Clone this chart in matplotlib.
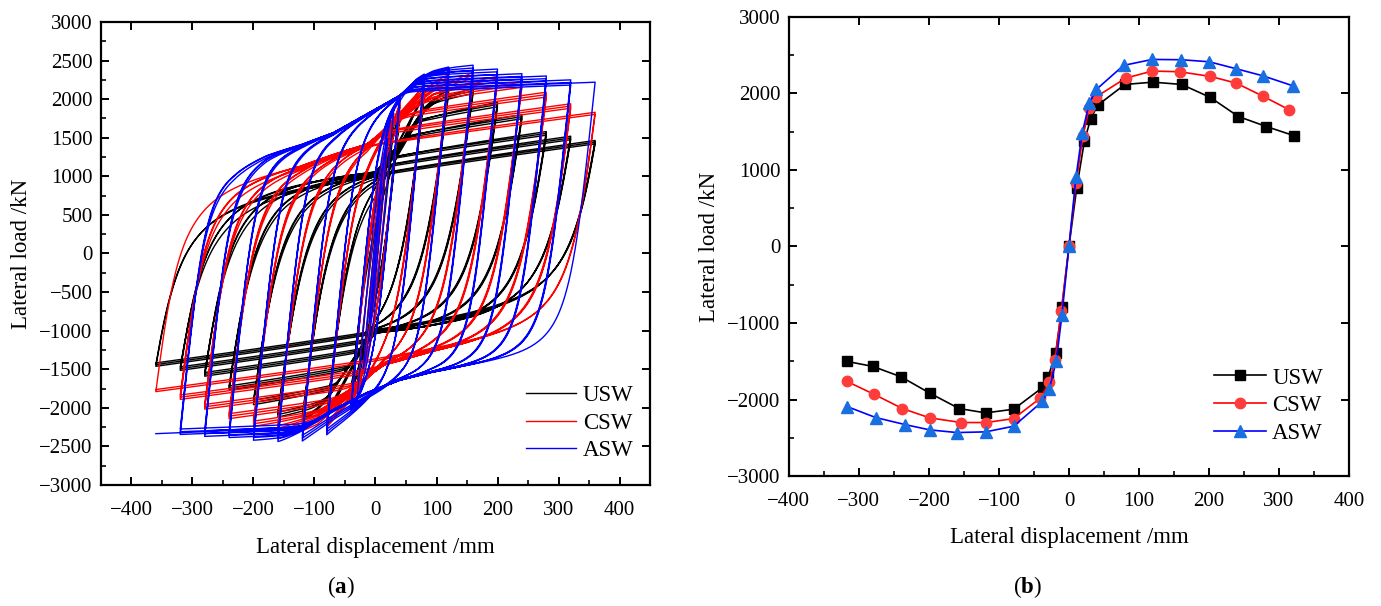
import numpy as np
import matplotlib
matplotlib.use("Agg")
import matplotlib.pyplot as plt
from matplotlib.ticker import MultipleLocator

plt.rcParams['font.family'] = ['Liberation Serif', 'DejaVu Serif']
plt.rcParams['mathtext.fontset'] = 'custom'
plt.rcParams['mathtext.rm'] = 'Liberation Serif'
plt.rcParams['mathtext.bf'] = 'Liberation Serif:bold'
plt.rcParams['axes.unicode_minus'] = True

# ---------------- Panel (b): skeleton curves ----------------
usw_disp = [-317, -280, -240, -198, -157, -119, -79, -37, -30, -19, -10, 0,
            11, 22, 31, 41, 80, 120, 161, 202, 242, 282, 321]
usw_load = [-1502, -1568, -1703, -1921, -2118, -2175, -2127, -1838, -1712, -1397, -795, 0,
            760, 1376, 1668, 1847, 2118, 2148, 2118, 1948, 1699, 1568, 1450]
csw_disp = [-317, -278, -238, -199, -154, -118, -79, -41, -28, -20, -11, 0,
            10, 20, 29, 39, 81, 119, 158, 202, 239, 277, 314]
csw_load = [-1764, -1934, -2118, -2240, -2301, -2301, -2249, -1983, -1777, -1480, -838, 0,
            825, 1441, 1812, 1956, 2201, 2293, 2284, 2223, 2135, 1965, 1790]
asw_disp = [-317, -276, -234, -199, -160, -119, -79, -38, -28, -18, -10, 0,
            10, 19, 29, 39, 78, 119, 160, 200, 239, 277, 320]
asw_load = [-2092, -2236, -2328, -2397, -2432, -2423, -2349, -2026, -1860, -1493, -891, 0,
            904, 1489, 1869, 2052, 2367, 2445, 2441, 2415, 2323, 2231, 2100]

# ---------------- Panel (a): hysteresis loops ----------------
amplitudes = [10, 20, 30, 40, 80, 120, 160, 200, 240, 280, 320, 360]
usw_pos = [760, 1376, 1668, 1847, 2100, 2140, 2140, 1960, 1800, 1580, 1520, 1465]
usw_neg = [-795, -1397, -1712, -1838, -2120, -2170, -2120, -1960, -1770, -1590, -1515, -1462]
csw_pos = [825, 1441, 1812, 1956, 2200, 2320, 2345, 2295, 2220, 2090, 1940, 1830]
csw_neg = [-838, -1480, -1777, -1983, -2250, -2300, -2300, -2240, -2140, -2017, -1891, -1790]
asw_pos = [904, 1489, 1869, 2052, 2325, 2416, 2440, 2390, 2330, 2300, 2250, 2220]
asw_neg = [-891, -1493, -1860, -2026, -2349, -2430, -2435, -2420, -2385, -2370, -2345, -2335]
usw_cycles = [1, 1, 1, 3, 3, 3, 3, 3, 3, 3, 3, 3]
csw_cycles = [1, 1, 1, 3, 3, 3, 3, 3, 3, 3, 3, 2]
asw_cycles = [1, 1, 1, 3, 3, 3, 3, 3, 3, 3, 3, 1]

# envelope paths followed by the loading branches
usw_up_d = [-450, -300, -200, -100, 0, 40, 80, 120, 200, 450]
usw_up_F = [900, 960, 1010, 1060, 1110, 1500, 1950, 2200, 2500, 3200]
usw_dn_d = [450, 300, 200, 100, 0, -40, -80, -120, -200, -450]
usw_dn_F = [-900, -980, -1010, -1040, -1080, -1500, -1950, -2220, -2500, -3200]
csw_up_d = [-450, -300, -233, -124, -69, -14, 40, 95, 149, 200, 450]
csw_up_F = [750, 930, 1040, 1200, 1330, 1450, 1780, 2088, 2217, 2350, 2700]
csw_dn_d = [450, 300, 200, 100, 14, -40, -95, -149, -200, -450]
csw_dn_F = [-850, -1080, -1200, -1320, -1480, -1780, -2088, -2217, -2330, -2700]
asw_up_d = [-450, -300, -233, -178, -124, -69, -14, 40, 67, 95, 130, 200, 450]
asw_up_F = [900, 1050, 1168, 1319, 1427, 1578, 1816, 2053, 2247, 2355, 2430, 2520, 2800]
asw_dn_d = [450, 300, 204, 150, 95, 40, -14, -69, -124, -157, -200, -450]
asw_dn_F = [-1150, -1320, -1420, -1480, -1550, -1650, -1810, -2027, -2286, -2416, -2500, -2800]


def smin(a, b, t=40.0):
    m = np.minimum(a, b)
    return m - t * np.log(np.exp(-(a - m) / t) + np.exp(-(b - m) / t))


def smax(a, b, t=40.0):
    return -smin(-a, -b, t)


def branch(d_r, F_r, d_t, F_t, spec, A, n=220):
    d = np.linspace(d_r, d_t, n)
    u = (d - d_r) / (d_t - d_r)
    s = 1.0 if d_t > d_r else -1.0
    if s > 0:
        g = np.interp(d, spec['up_d'], spec['up_F'])
        h = smin(g, F_t + spec['k'] * (d - d_t))
    else:
        g = np.interp(-d, -np.array(spec['dn_d']), spec['dn_F'])
        h = smax(g, F_t + spec['k'] * (d - d_t))
    a = A / 360.0
    K0 = spec['K0'][0] + (spec['K0'][1] - spec['K0'][0]) * a
    R = spec['R'][0] + (spec['R'][1] - spec['R'][0]) * a ** 2
    z = np.maximum(K0 * np.abs(d - d_r), 1e-9)
    y = np.maximum(s * (h - F_r), 1e-6)
    F = F_r + s * (z ** -R + y ** -R) ** (-1.0 / R)
    F = F + (F_t - F[-1]) * u
    return d, F


def hysteresis(amps, pos, neg, cycles, spec, deg=0.015):
    xs, ys = [np.array([0.0])], [np.array([0.0])]
    d_r, F_r = 0.0, 0.0
    for A, P, N, nc in zip(amps, pos, neg, cycles):
        for k in range(nc):
            f = 1 - deg * k
            d, F = branch(d_r, F_r, A, P * f, spec, A)
            xs.append(d[1:]); ys.append(F[1:])
            d_r, F_r = A, P * f
            d, F = branch(d_r, F_r, -A, N * f, spec, A)
            xs.append(d[1:]); ys.append(F[1:])
            d_r, F_r = -A, N * f
    return np.concatenate(xs), np.concatenate(ys)


usw_spec = dict(up_d=usw_up_d, up_F=usw_up_F, dn_d=usw_dn_d, dn_F=usw_dn_F,
                k=1.0, K0=(70, 45), R=(2.2, 1.6))
csw_spec = dict(up_d=csw_up_d, up_F=csw_up_F, dn_d=csw_dn_d, dn_F=csw_dn_F,
                k=1.0, K0=(75, 60), R=(3.0, 1.9))
asw_spec = dict(up_d=asw_up_d, up_F=asw_up_F, dn_d=asw_dn_d, dn_F=asw_dn_F,
                k=0.3, K0=(85, 75), R=(4.0, 2.6))

fig = plt.figure(figsize=(13.81, 6.06), dpi=100)
axa = fig.add_axes([0.0731, 0.1997, 0.3976, 0.7640])
axb = fig.add_axes([0.5713, 0.2145, 0.4055, 0.7575])

fs_tick = 15
fs_lab = 16.5

# --- panel (a)
xu, yu = hysteresis(amplitudes, usw_pos, usw_neg, usw_cycles, usw_spec)
xc, yc = hysteresis(amplitudes, csw_pos, csw_neg, csw_cycles, csw_spec)
xa, ya = hysteresis(amplitudes, asw_pos, asw_neg, asw_cycles, asw_spec)
axa.plot(xu, yu, color='#000000', lw=1.0, label='USW')
axa.plot(xc, yc, color='#ff0000', lw=1.0, label='CSW')
axa.plot(xa, ya, color='#0000ff', lw=1.0, label='ASW')
axa.set_xlim(-450, 450)
axa.set_ylim(-3000, 3000)
axa.xaxis.set_major_locator(MultipleLocator(100))
axa.xaxis.set_minor_locator(MultipleLocator(50))
axa.yaxis.set_major_locator(MultipleLocator(500))
axa.yaxis.set_minor_locator(MultipleLocator(250))
axa.set_xlabel('Lateral displacement /mm', fontsize=fs_lab, labelpad=12)
axa.set_ylabel('Lateral load /kN', fontsize=fs_lab, labelpad=5)
axa.legend(loc='lower right', bbox_to_anchor=(0.987, 0.031), borderaxespad=0,
           frameon=False, fontsize=fs_lab, handlelength=2.2,
           labelspacing=0.3, handletextpad=0.3)

# --- panel (b)
axb.plot(usw_disp, usw_load, color='#000000', lw=1.2, marker='s', ms=7,
         mfc='#000000', mec='#000000', label='USW')
axb.plot(csw_disp, csw_load, color='#ff0000', lw=1.2, marker='o', ms=7.5,
         mfc='#ff3c3c', mec='#ff3c3c', label='CSW')
axb.plot(asw_disp, asw_load, color='#0000ff', lw=1.2, marker='^', ms=8,
         mfc='#1a6fe0', mec='#1a6fe0', label='ASW')
axb.set_xlim(-400, 400)
axb.set_ylim(-3000, 3000)
axb.xaxis.set_major_locator(MultipleLocator(100))
axb.xaxis.set_minor_locator(MultipleLocator(50))
axb.yaxis.set_major_locator(MultipleLocator(1000))
axb.yaxis.set_minor_locator(MultipleLocator(500))
axb.set_xlabel('Lateral displacement /mm', fontsize=fs_lab, labelpad=11.5)
axb.set_ylabel('Lateral load /kN', fontsize=fs_lab, labelpad=5.5)
axb.legend(loc='lower right', bbox_to_anchor=(0.970, 0.049), borderaxespad=0,
           frameon=False, fontsize=fs_lab, handlelength=2.3,
           labelspacing=0.3, handletextpad=0.26)

for ax in (axa, axb):
    for sp in ax.spines.values():
        sp.set_linewidth(1.6)
    ax.tick_params(which='both', direction='in', top=True, right=True, labelsize=fs_tick)
    ax.tick_params(which='major', length=6, width=1.4)
    ax.tick_params(which='minor', length=3.5, width=1.2, top=False, right=False)
    ax.tick_params(axis='x', pad=11.5)
    ax.tick_params(axis='y', pad=6)

fig.text(341 / 1381, 1 - 587 / 606, r'($\mathbf{a}$)', ha='center', va='center', fontsize=fs_lab)
fig.text(1027 / 1381, 1 - 587 / 606, r'($\mathbf{b}$)', ha='center', va='center', fontsize=fs_lab)

fig.savefig('out.png', dpi=100)
